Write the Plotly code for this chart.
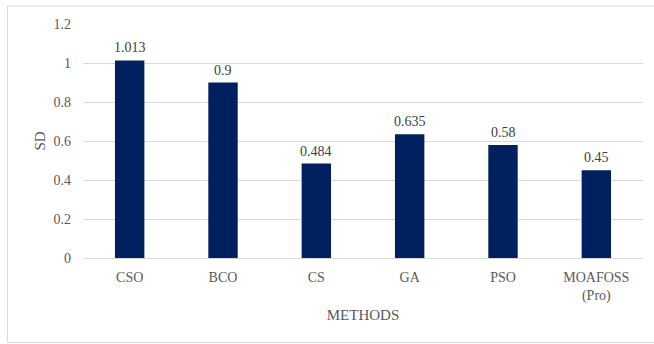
import plotly.graph_objects as go

methods = ["CSO", "BCO", "CS", "GA", "PSO", "MOAFOSS<br>(Pro)"]
sd_values = [1.013, 0.9, 0.484, 0.635, 0.58, 0.45]
value_labels = ["1.013", "0.9", "0.484", "0.635", "0.58", "0.45"]
y_ticks = [0, 0.2, 0.4, 0.6, 0.8, 1, 1.2]
y_tick_text = ["0", "0.2", "0.4", "0.6", "0.8", "1", "1.2"]

W, H = 654, 344
ml, mr, mt, mb = 83, 11, 24, 86
pw, ph = W - ml - mr, H - mt - mb

font_family = "Liberation Serif, Times New Roman, serif"
grey = "#595959"

fig = go.Figure()
fig.add_trace(go.Bar(
    x=methods, y=sd_values,
    marker=dict(color="#002060", line=dict(width=0)),
    hoverinfo="skip",
))

for m, v, t in zip(methods, sd_values, value_labels):
    fig.add_annotation(x=m, y=v, text=t, showarrow=False, yanchor="bottom",
                       yshift=3, font=dict(family=font_family, size=14, color="#404040"))

# outer chart border
fig.add_shape(type="rect", xref="paper", yref="paper",
              x0=(7.5 - ml) / pw, x1=(660 - ml) / pw,
              y0=-(342.5 - mt - ph) / ph, y1=(H - mb - 6) / ph,
              line=dict(color="#d9d9d9", width=1), layer="below")

fig.update_layout(
    width=W, height=H,
    margin=dict(l=ml, r=mr, t=mt, b=mb),
    paper_bgcolor="white", plot_bgcolor="white",
    bargap=0.685,
    showlegend=False,
    font=dict(family=font_family, size=14, color=grey),
    xaxis=dict(
        showgrid=False, showline=False, ticks="", ticklabelstandoff=9,
        tickfont=dict(size=14, color=grey),
        title=dict(text="METHODS", font=dict(size=15, color=grey), standoff=6),
    ),
    yaxis=dict(
        range=[0, 1.2], tickvals=y_ticks, ticktext=y_tick_text,
        showgrid=True, gridcolor="#d9d9d9", gridwidth=1,
        zeroline=True, zerolinecolor="#d9d9d9", zerolinewidth=1,
        showline=False, ticks="", ticklabelstandoff=11,
        tickfont=dict(size=14, color=grey),
        title=dict(text="SD", font=dict(size=15, color=grey), standoff=4),
    ),
)

fig.write_html("out.html")
